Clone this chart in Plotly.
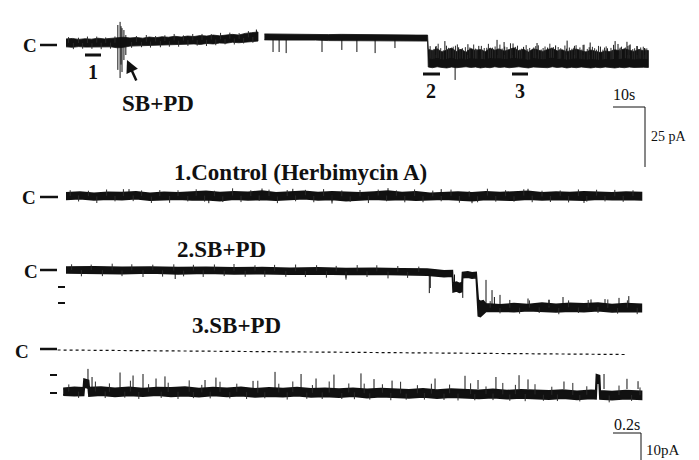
import numpy as np
import plotly.graph_objects as go

# ---------------- DATA ----------------
# Top record (time in s, current in pA relative to closed level C)
top_tA = [0, 2, 4, 6, 8, 10, 12, 14, 16, 18, 20, 22, 24, 26, 28, 30, 32, 34, 36, 38, 40, 42, 44, 46, 48, 50, 52, 54, 56, 58, 60]
top_upA = [1.7, 1.9, 1.5, 1.8, 1.6, 2.0, 1.7, 1.9, 2.2, 2.4, 2.1, 2.3, 2.0, 2.5, 2.2, 2.6, 2.4, 2.8, 2.5, 2.9, 2.7, 3.1, 2.9, 3.3, 3.0, 3.4, 3.6, 3.3, 4.0, 4.3, 4.6]
top_loA = [-1.6, -1.8, -1.5, -1.7, -1.9, -1.5, -1.7, -1.6, -2.0, -1.8, -1.3, -1.5, -1.1, -1.3, -1.0, -0.8, -1.0, -0.6, -0.8, -0.5, -0.4, -0.6, -0.2, -0.4, 0.0, -0.1, 0.3, 0.1, 0.5, 0.6, 0.8]

top_tB = [62, 66, 70, 74, 78, 82, 86, 90, 94, 98, 102, 106, 110, 113,
          113.2, 114.5, 116, 117.5, 119, 120.5, 122, 123.5, 125, 126.5, 128, 129.5, 131, 132.5, 134, 135.5,
          137, 138.5, 140, 141.5, 143, 144.5, 146, 147.5, 149, 150.5, 152, 153.5, 155, 156.5, 158, 159.5,
          161, 162.5, 164, 165.5, 167, 168.5, 170, 171.5, 173, 174.5, 176, 177.5, 179, 180.5, 182]
top_upB = [3.8, 3.7, 3.8, 3.6, 3.7, 3.5, 3.6, 3.5, 3.4, 3.5, 3.3, 3.4, 3.3, 3.3,
           -2.6, -3.2, -2.4, -3.7, -2.8, -2.1, -3.5, -2.6, -3.9, -2.3, -3.1, -2.7, -3.6, -2.2, -3.0, -2.5,
           -3.4, -2.8, -2.0, -3.2, -2.6, -3.8, -2.4, -2.9, -3.5, -2.7, -2.2, -3.3, -2.8, -3.6, -3.1, -2.5,
           -3.2, -3.7, -2.9, -3.5, -4.0, -3.3, -3.6, -2.8, -3.2, -2.4, -3.0, -3.5, -2.7, -3.2, -3.1]
top_loB = [1.3, 1.2, 1.3, 1.1, 1.2, 1.0, 1.1, 1.0, 0.9, 1.0, 0.8, 0.9, 0.8, 0.8,
           -10.0, -10.3, -9.9, -10.2, -10.4, -10.0, -10.3, -10.1, -9.9, -10.2, -10.0, -10.4, -10.1, -10.3, -9.9, -10.2,
           -10.0, -10.3, -10.1, -9.9, -10.2, -10.4, -10.0, -10.2, -10.1, -10.3, -9.9, -10.2, -10.0, -10.4, -10.1, -10.3,
           -10.0, -10.2, -10.4, -10.1, -10.3, -10.0, -10.2, -10.4, -10.1, -10.3, -10.0, -10.2, -10.3, -10.1, -10.2]
# brief events on the top record: time, low end, high end (pA)
top_spk_t = [16.2, 16.9, 17.2, 17.5, 18.1, 18.7, 59.5,
             64.7, 66.6, 68.8, 80.0, 86.2, 90.9, 96.6, 102.8, 121.6,
             115.5, 118.4, 122.7, 125.6, 129.0, 131.5, 134.7, 136.9, 139.7, 143.0, 147.2, 150.5, 153.0, 156.6,
             158.7, 161.6, 163.8, 167.0, 169.2, 171.6, 172.5, 175.3, 176.3, 178.5, 180.8]
top_spk_lo = [-11.2, -14.6, -9.0, -12.1, -7.1, -5.0, 2.5,
              -3.75, -3.75, -4.2, -3.75, -2.9, -3.75, -4.2, -2.1, -15.4,
              -5, -5, -5, -5, -5, -5, -5, -5, -5, -5, -5, -5, -5, -5,
              -5, -5, -5, -5, -5, -5, -5, -5, -5, -5, -5]
top_spk_hi = [7.5, 8.8, 7.0, 6.2, 5.4, 3.3, 5.6,
              1.5, 1.5, 1.5, 1.5, 1.5, 1.5, 1.5, 1.5, -9.0,
              -1.5, 0.8, -1.8, -0.5, -1.2, -2.0, 1.3, 0.4, -0.2, -1.6, 0.0, -1.9, -1.0, 1.0,
              -2.0, -0.8, 0.2, -1.5, -2.2, 0.8, -0.4, 0.5, -0.6, -1.3, -2.1]
# noise fringe on the top record: time, deviation from the band middle (pA)
top_fzA_t = [0.8, 2.3, 3.9, 5.2, 6.7, 8.1, 9.6, 11.0, 12.4, 13.9, 15.3,
             20.5, 22.0, 23.6, 25.1, 26.4, 28.0, 29.5, 30.9, 32.3, 33.8, 35.2, 36.7, 38.1, 39.6, 41.0, 42.5,
             43.9, 45.4, 46.8, 48.3, 49.7, 51.2, 52.6, 54.1, 55.5, 57.0, 58.4]
top_fzA_d = [2.4, -2.6, 2.2, -2.4, 2.7, -2.3, 2.5, -2.7, 2.3, -2.5, 2.6,
             -2.4, 2.5, -2.2, 2.8, -2.5, 2.3, -2.6, 2.4, -2.3, 2.7, -2.5, 2.2, -2.4, 2.6, -2.3, 2.5,
             -2.6, 2.3, -2.4, 2.7, -2.2, 2.5, -2.5, 2.4, -2.3, 2.6, -2.4]
top_fzC_t = [113.8, 114.4, 115.0, 115.7, 116.3, 117.1, 117.9, 118.9, 119.5, 120.0, 121.0, 121.7, 122.3, 123.1,
             123.9, 124.8, 125.5, 126.2, 127.4, 128.0, 128.4, 129.8, 130.2, 130.7, 132.0, 132.6, 133.3, 134.1,
             135.0, 135.6, 136.3, 137.1, 137.8, 138.9, 139.4, 140.5, 141.1, 141.8, 142.4, 143.8, 144.3, 144.9,
             146.2, 146.8, 147.6, 148.5, 149.1, 149.7, 151.2, 151.7, 152.3, 153.8, 154.2, 154.6, 155.9, 156.4,
             157.3, 158.1, 158.9, 159.4, 160.6, 161.2, 161.9, 162.9, 163.5, 164.5, 165.2, 165.8, 166.4, 167.8,
             168.3, 168.8, 170.3, 170.7, 171.1, 172.9, 173.2, 173.6, 174.8, 175.6, 176.0, 177.1, 177.7, 178.4,
             179.1, 179.6, 180.4, 181.0, 181.5]
top_fzC_d = [5.2, 3.9, 4.1, 5.0, 6.0, 4.6, 3.8, 5.5, 4.4, 3.9, 4.8, 5.6, 6.2, 4.0,
             4.3, 5.1, 3.7, 4.5, 5.8, 4.2, 4.0, 5.4, 3.9, 4.7, 6.1, 4.3, 4.4, 5.0,
             4.1, 5.7, 4.2, 5.2, 4.9, 6.3, 4.0, 4.6, 5.3, 3.8, 4.1, 5.9, 4.4, 4.8,
             4.4, 5.1, 5.6, 4.0, 4.7, 5.2, 6.0, 4.2, 4.5, 5.0, 3.9, 4.3, 5.7, 4.6,
             4.9, 4.2, 5.3, 5.5, 4.7, 3.9, 6.1, 4.4, 5.0, 5.1, 4.6, 4.1, 5.8, 4.1,
             4.8, 5.3, 4.8, 3.9, 5.9, 4.3, 4.7, 5.0, 4.5, 5.2, 5.6, 4.2, 4.6, 5.4,
             4.0, 4.7, 5.1, 4.3, 4.4]

# Trace 1: Control (Herbimycin A)
t1 = [0.0, 0.1, 0.2, 0.3, 0.4, 0.5, 0.6, 0.7, 0.8, 0.9, 1.0, 1.1, 1.2, 1.3, 1.4, 1.5, 1.6, 1.7, 1.8, 1.9, 2.0,
      2.1, 2.2, 2.3, 2.4, 2.5, 2.6, 2.7, 2.8, 2.9, 3.0, 3.1, 3.2, 3.3, 3.4, 3.5, 3.6, 3.7, 3.8, 3.9, 4.0, 4.11]
up1 = [1.0, 1.3, 0.9, 1.2, 1.1, 1.4, 0.9, 1.2, 1.0, 1.3, 1.5, 1.1, 1.4, 1.2, 1.6, 1.0, 1.3, 1.5, 1.1, 1.4, 1.2,
       1.0, 1.3, 1.6, 1.1, 1.4, 0.9, 1.2, 1.3, 1.0, 1.4, 1.1, 1.2, 1.5, 1.0, 1.3, 1.1, 1.4, 1.2, 1.0, 1.3, 1.1]
lo1 = [-1.1, -0.9, -1.3, -1.0, -1.2, -0.9, -1.4, -1.1, -1.0, -1.3, -1.2, -1.5, -1.0, -1.3, -1.1, -1.4, -1.2, -0.9, -1.3, -1.1, -1.5,
       -1.2, -1.0, -1.3, -1.1, -1.4, -1.2, -1.0, -1.3, -1.5, -1.1, -1.2, -1.4, -1.0, -1.3, -1.1, -1.2, -1.4, -1.0, -1.2, -1.1, -1.3]
spk1_t = [0.45, 1.02, 1.40, 1.62, 1.90, 2.30, 2.68, 2.90, 3.30, 3.70]
spk1_v = [2.3, -2.4, 2.5, 2.4, -2.5, 2.6, 2.3, -2.4, 2.4, -2.3]
fz1_t = [0.03, 0.09, 0.16, 0.22, 0.29, 0.35, 0.41, 0.48, 0.54, 0.61, 0.67, 0.74, 0.80, 0.87, 0.93, 0.99,
         1.06, 1.12, 1.19, 1.25, 1.32, 1.38, 1.45, 1.51, 1.58, 1.64, 1.71, 1.77, 1.84, 1.90, 1.97, 2.03,
         2.10, 2.16, 2.23, 2.29, 2.36, 2.42, 2.49, 2.55, 2.62, 2.68, 2.75, 2.81, 2.88, 2.94, 3.01, 3.07,
         3.14, 3.20, 3.27, 3.33, 3.40, 3.46, 3.53, 3.59, 3.66, 3.72, 3.79, 3.85, 3.92, 3.98, 4.05]
fz1_d = [1.9, -2.0, 1.8, -2.2, 2.1, -1.8, 2.3, -1.9, 1.8, -2.1, 2.0, -2.3, 1.9, -1.8, 2.2, -2.0,
         1.8, -1.9, 2.4, -2.1, 1.9, -1.8, 2.1, -2.2, 2.0, -1.9, 1.8, -2.1, 2.3, -2.0, 1.9, -1.8,
         2.1, -2.4, 2.0, -1.9, 1.8, -2.1, 2.2, -2.0, 1.9, -1.8, 2.1, -2.2, 1.8, -2.0, 2.3, -1.9,
         2.0, -1.8, 2.1, -2.2, 1.9, -2.0, 1.8, -2.1, 2.2, -1.9, 2.0, -1.8, 2.1, -2.0, 1.9]

# Trace 2: SB+PD (onset of openings)
t2 = [0.0, 0.2, 0.4, 0.6, 0.8, 1.0, 1.2, 1.4, 1.6, 1.8, 2.0, 2.2, 2.4, 2.58, 2.65, 2.70, 2.76,
      2.765, 2.79, 2.81, 2.828, 2.832, 2.87, 2.90, 2.93, 2.945, 2.96, 2.98, 3.0,
      3.1, 3.2, 3.3, 3.4, 3.5, 3.6, 3.7, 3.8, 3.9, 4.0, 4.11]
up2 = [1.0, 1.1, 0.9, 1.0, 0.8, 0.9, 0.7, 0.8, 0.6, 0.7, 0.5, 0.6, 0.4, 0.3, 0.0, -0.3, -0.2,
       -4.3, -4.0, -4.5, -4.2, -0.8, -0.6, -0.9, -0.8, -10.0, -10.5, -10.2, -11.3,
       -11.6, -11.2, -11.5, -11.0, -11.4, -11.1, -11.3, -11.0, -11.5, -11.2, -11.4]
lo2 = [-1.0, -1.1, -1.2, -1.0, -1.3, -1.1, -1.3, -1.2, -1.4, -1.3, -1.5, -1.4, -1.6, -1.7, -2.0, -2.2, -2.1,
       -7.3, -7.0, -7.5, -7.2, -2.6, -2.4, -2.7, -2.6, -15.3, -15.5, -14.5, -13.8,
       -13.7, -13.9, -13.6, -13.8, -14.0, -13.7, -13.9, -13.6, -14.0, -13.8, -13.9]
spk2_t = [0.78, 2.0, 2.595, 2.602, 2.775, 2.834, 3.0, 3.043, 3.06, 3.1, 3.3, 3.45, 3.55, 3.75, 3.85, 3.95, 4.02]
spk2_lo = [-1.0, -1.2, -1.5, -1.5, -4.0, -2.0, -12.0, -12.0, -12.0, -12.0, -12.0, -12.0, -12.0, -12.0, -12.0, -12.0, -12.0]
spk2_hi = [-3.0, -3.2, -7.7, -6.0, -1.5, -9.3, -3.3, -6.7, -9.0, -8.3, -9.5, -10.0, -9.0, -9.8, -9.7, -9.3, -8.7]
fz2_t = [0.04, 0.11, 0.18, 0.26, 0.33, 0.40, 0.47, 0.55, 0.62, 0.69, 0.77, 0.84, 0.91, 0.98, 1.06, 1.13,
         1.20, 1.28, 1.35, 1.42, 1.49, 1.57, 1.64, 1.71, 1.79, 1.86, 1.93, 2.00, 2.08, 2.15, 2.22, 2.30,
         2.37, 2.44, 2.52, 3.03, 3.10, 3.17, 3.24, 3.31, 3.38, 3.45, 3.52, 3.59, 3.66, 3.73, 3.80, 3.87,
         3.94, 4.01, 4.08]
fz2_d = [1.9, -2.1, 1.8, -2.0, 2.2, -1.9, 2.0, -2.3, 1.8, -2.1, 2.1, -1.9, 1.9, -2.2, 2.0, -1.8,
         2.3, -2.0, 1.8, -2.1, 2.0, -1.9, 2.2, -2.0, 1.9, -2.2, 1.8, -2.1, 2.1, -1.9, 2.0, -2.3,
         1.9, -2.0, 1.8, 2.2, -1.8, 2.6, -2.0, 2.4, -1.9, 2.7, -2.1, 2.3, -1.8, 2.5, -2.0, 2.8,
         -1.9, 2.4, -2.1]

# Trace 3: SB+PD (steady state), closed level shown dotted
c3_t = [-0.06, 3.99]
c3_v = [0.0, -1.5]
t3 = [-0.02, 0.06, 0.125, 0.13, 0.16, 0.165, 0.25, 0.35, 0.45, 0.55, 0.65, 0.75, 0.85, 0.95, 1.05, 1.15, 1.25,
      1.35, 1.45, 1.55, 1.65, 1.75, 1.85, 1.95, 2.05, 2.15, 2.25, 2.35, 2.45, 2.55, 2.65, 2.75, 2.85, 2.95,
      3.05, 3.15, 3.25, 3.35, 3.45, 3.55, 3.65, 3.75, 3.785, 3.79, 3.81, 3.815, 3.9, 4.0, 4.11]
up3 = [-12.8, -12.5, -12.7, -9.8, -10.2, -12.6, -12.4, -12.8, -12.5, -12.9, -12.6, -12.7, -12.4, -12.9, -12.6, -12.8, -12.5,
       -13.0, -12.7, -12.9, -12.6, -13.0, -12.8, -13.1, -12.8, -13.2, -12.9, -13.1, -13.3, -13.0, -13.4, -13.1, -13.3, -13.5,
       -13.2, -13.6, -13.3, -13.5, -13.7, -13.4, -13.8, -13.5, -13.6, -8.3, -8.6, -13.7, -13.9, -13.6, -13.8]
lo3 = [-15.0, -15.2, -15.1, -12.3, -12.6, -15.3, -15.0, -15.4, -15.1, -15.3, -15.0, -15.4, -15.2, -15.5, -15.1, -15.4, -15.2,
       -15.6, -15.3, -15.5, -15.2, -15.6, -15.4, -15.7, -15.3, -15.8, -15.5, -15.7, -15.9, -15.6, -16.0, -15.7, -16.0, -16.1,
       -15.8, -16.2, -15.9, -16.1, -16.3, -16.0, -16.4, -16.1, -16.2, -10.8, -11.2, -16.3, -16.5, -16.2, -16.4]
spk3_t = [0.157, 0.186, 0.386, 0.479, 0.55, 0.643, 0.707, 0.993, 1.071, 1.336, 1.493, 1.679, 1.786, 1.914, 2.107,
          2.2, 2.329, 2.636, 2.85, 2.943, 3.071, 3.236, 3.3, 3.557, 3.843, 4.007, 4.086]
spk3_v = [-6.3, -9.0, -7.5, -8.5, -8.0, -9.5, -8.8, -10.0, -9.2, -10.3, -7.3, -8.0, -9.5, -8.2, -7.8,
          -9.7, -10.2, -9.5, -8.6, -10.0, -9.0, -8.4, -9.8, -10.5, -8.0, -9.6, -10.4]
fz3_t = [0.02, 0.09, 0.21, 0.28, 0.31, 0.42, 0.46, 0.52, 0.59, 0.68, 0.73, 0.80, 0.88, 0.91, 0.97, 1.03,
         1.10, 1.17, 1.22, 1.29, 1.37, 1.42, 1.52, 1.58, 1.62, 1.72, 1.76, 1.83, 1.88, 1.97, 2.02, 2.06,
         2.13, 2.17, 2.26, 2.32, 2.39, 2.43, 2.51, 2.56, 2.61, 2.70, 2.74, 2.80, 2.89, 2.92, 3.00, 3.05,
         3.12, 3.17, 3.21, 3.28, 3.35, 3.41, 3.47, 3.51, 3.62, 3.67, 3.72, 3.88, 3.95, 4.04, 4.10]
fz3_d = [2.4, -2.1, 3.3, -2.2, 2.8, -2.0, 3.6, -2.3, 2.6, -2.1, 3.1, -2.4, 3.8, -2.0, 2.5, -2.2,
         3.4, -2.1, 2.7, -2.3, 4.0, -2.0, 2.9, -2.4, 3.5, -2.1, 2.6, -2.2, 3.7, -2.0, 3.0, -2.3,
         3.2, -2.1, 2.8, -2.4, 3.9, -2.0, 2.7, -2.2, 3.3, -2.1, 2.9, -2.3, 3.6, -2.0, 2.5, -2.2,
         3.8, -2.1, 3.1, -2.4, 3.4, -2.0, 2.7, -2.2, 4.0, -2.1, 2.8, -2.3, 3.2, -2.0, 2.6]

# scale bars
top_bar_s, top_bar_pA = 10, 25
low_bar_s, low_bar_pA = 0.2, 10

# ---------------- FIGURE ----------------
W, H = 699, 460
INK = "#111111"
SERIF = "Liberation Serif"


def xr(x0, ppu):
    return [-x0 / ppu, (W - x0) / ppu]


def yr(c, ppu):
    return [(c - H) / ppu, c / ppu]


fig = go.Figure()


def band(t, up, lo, xa, ya, edge=0.8):
    fig.add_trace(go.Scatter(x=list(t) + list(t)[::-1], y=list(up) + list(lo)[::-1],
                             fill="toself", fillcolor=INK, mode="lines",
                             line=dict(color=INK, width=edge), xaxis=xa, yaxis=ya,
                             hoverinfo="skip", showlegend=False))


def spikes(t, lo, hi, xa, ya, w=1.0, color=INK):
    xs, ys = [], []
    for a, b, c in zip(t, lo, hi):
        xs += [a, a, None]
        ys += [b, c, None]
    fig.add_trace(go.Scatter(x=xs, y=ys, mode="lines", line=dict(color=color, width=w),
                             xaxis=xa, yaxis=ya, hoverinfo="skip", showlegend=False))


def fringe(ft, fd, t, up, lo, xa, ya):
    mid = (np.array(up) + np.array(lo)) / 2
    base = np.interp(ft, t, mid)
    spikes(ft, base, base + np.array(fd), xa, ya, w=1.0, color="#2a2a2a")


# top record
band(top_tA, top_upA, top_loA, "x", "y")
band(top_tB, top_upB, top_loB, "x", "y")
fringe(top_fzA_t, top_fzA_d, top_tA, top_upA, top_loA, "x", "y")
fringe(top_fzC_t, top_fzC_d, top_tB, top_upB, top_loB, "x", "y")
spikes(top_spk_t, top_spk_lo, top_spk_hi, "x", "y")
# trace 1
band(t1, up1, lo1, "x2", "y2", edge=1.8)
fringe(fz1_t, fz1_d, t1, up1, lo1, "x2", "y2")
spikes(spk1_t, [0] * len(spk1_t), spk1_v, "x2", "y2")
# trace 2
band(t2, up2, lo2, "x2", "y3", edge=1.6)
fringe(fz2_t, fz2_d, t2, up2, lo2, "x2", "y3")
spikes(spk2_t, spk2_lo, spk2_hi, "x2", "y3")
# trace 3
fig.add_trace(go.Scatter(x=c3_t, y=c3_v, mode="lines", line=dict(color=INK, width=1.2, dash="dot"),
                         xaxis="x2", yaxis="y4", hoverinfo="skip", showlegend=False))
band(t3, up3, lo3, "x2", "y4", edge=2.0)
fringe(fz3_t, fz3_d, t3, up3, lo3, "x2", "y4")
spikes(spk3_t, [-13.0] * len(spk3_t), spk3_v, "x2", "y4")

# scale bars (in data units)
tb_x0 = (613 - 66) / 3.2
tb_y0 = (43 - 107) / 2.4
fig.add_trace(go.Scatter(x=[tb_x0, tb_x0 + top_bar_s, tb_x0 + top_bar_s],
                         y=[tb_y0, tb_y0, tb_y0 - top_bar_pA], mode="lines",
                         line=dict(color=INK, width=1), xaxis="x", yaxis="y",
                         hoverinfo="skip", showlegend=False))
lb_x0 = (613 - 66) / 140
lb_y0 = (350 - 433) / 3
fig.add_trace(go.Scatter(x=[lb_x0, lb_x0 + low_bar_s, lb_x0 + low_bar_s],
                         y=[lb_y0, lb_y0, lb_y0 - low_bar_pA], mode="lines",
                         line=dict(color=INK, width=1), xaxis="x2", yaxis="y4",
                         hoverinfo="skip", showlegend=False))

hid = dict(visible=False, fixedrange=True, showgrid=False, zeroline=False)
fig.update_layout(
    width=W, height=H, margin=dict(l=0, r=0, t=0, b=0),
    paper_bgcolor="white", plot_bgcolor="white", showlegend=False,
    xaxis=dict(range=xr(66, 3.2), domain=[0, 1], **hid),
    xaxis2=dict(range=xr(66, 140), domain=[0, 1], overlaying="x", **hid),
    yaxis=dict(range=yr(43, 2.4), domain=[0, 1], **hid),
    yaxis2=dict(range=yr(196, 3.0), domain=[0, 1], overlaying="y", anchor="x2", **hid),
    yaxis3=dict(range=yr(270, 3.0), domain=[0, 1], overlaying="y", anchor="x2", **hid),
    yaxis4=dict(range=yr(350, 3.0), domain=[0, 1], overlaying="y", anchor="x2", **hid),
)


def px(x):
    return x / W


def py(y):
    return 1 - y / H


def text(s, x, y, size, bold=True, xanchor="center"):
    fig.add_annotation(text=s, x=px(x), y=py(y), xref="paper", yref="paper",
                       showarrow=False, xanchor=xanchor, yanchor="middle",
                       font=dict(family=SERIF, size=size, color=INK,
                                 weight="bold" if bold else "normal"))


def hline(x0, x1, y, w=2.5):
    fig.add_shape(type="line", x0=px(x0), x1=px(x1), y0=py(y), y1=py(y),
                  xref="paper", yref="paper", line=dict(color=INK, width=w))


# top labels
text("C", 30, 46, 19)
hline(40, 57, 45)
hline(85, 101, 55, 3)
text("1", 93, 72, 20)
text("SB+PD", 158, 103, 23)
fig.add_annotation(x=px(127), y=py(60), xref="paper", yref="paper", text="",
                   showarrow=True, ax=10, ay=22, arrowhead=2, arrowsize=1,
                   arrowwidth=2.5, arrowcolor=INK)
hline(423, 440, 74, 3)
text("2", 431, 91, 20)
hline(512, 528, 74, 3)
text("3", 520, 91, 20)
text("10s", 624, 94, 16, bold=False)
text("25 pA", 649, 137, 14, bold=False, xanchor="left")

# trace 1
text("1.Control (Herbimycin A)", 300, 172, 23)
text("C", 29, 198, 19)
hline(40, 58, 197)

# trace 2
text("2.SB+PD", 222, 249, 23)
text("C", 31, 271, 19)
hline(40, 57, 270)
hline(58, 65, 287, 2)
hline(58, 65, 303, 2)

# trace 3
text("3.SB+PD", 236, 325, 23)
text("C", 22, 351, 19)
hline(40, 57, 349)
hline(50, 57, 375, 2)
hline(50, 57, 393, 2)

text("0.2s", 627, 424, 16, bold=False)
text("10pA", 644, 450, 15, bold=False, xanchor="left")

fig.write_html("out.html")
